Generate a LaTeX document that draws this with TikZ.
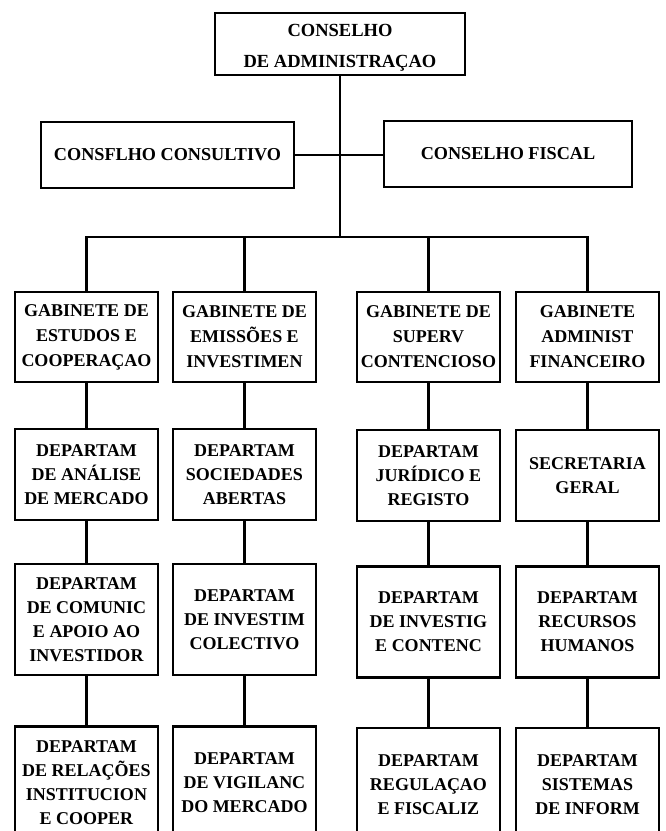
\documentclass[tikz,border=0pt]{standalone}
\usepackage{fontspec}
\setmainfont{Liberation Serif}
\begin{document}
\begin{tikzpicture}[x=1pt,y=-1pt,
  box/.style={draw, line width=2.6pt, align=center, inner sep=0pt, fill=white,
    font=\bfseries\fontsize{18}{24}\selectfont},
  topbox/.style={box, minimum width=250pt, minimum height=62pt},
  toptext/.style={align=center, inner sep=0pt, font=\bfseries\fontsize{18.5}{31}\selectfont},
  midbox/.style={box, minimum height=66pt, font=\bfseries\fontsize{18.2}{24}\selectfont},
  rowA/.style={box, minimum width=143pt, minimum height=90pt, font=\bfseries\fontsize{18}{25}\selectfont},
  rowB/.style={box, minimum width=143pt, minimum height=91pt},
  rowC/.style={box, minimum width=143pt, minimum height=111pt},
  rowD/.style={box, minimum width=143pt, minimum height=113pt},
  conn/.style={line width=2.6pt}]
\useasboundingbox (0,0) rectangle (666,831);
\clip (0,0) rectangle (666,831);
\fill[white] (0,0) rectangle (666,831);

\coordinate (bus) at (0,237);

\node[topbox] (top) at (340,44) {};
\node[toptext] (toplabel) at ([yshift=-3.5pt]top.center) {CONSELHO\\DE ADMINISTRAÇAO};
\node[midbox, minimum width=253pt] (cons) at (167.5,155) {CONSFLHO CONSULTIVO};
\node[midbox, minimum width=248pt] (fisc) at (508,154) {CONSELHO FISCAL};

\node[rowA] (g1) at (86.5,337) {GABINETE DE\\ESTUDOS E\\COOPERAÇAO};
\node[rowA] (g2) at (244.5,337) {GABINETE DE\\EMISSÕES E\\INVESTIMEN};
\node[rowA] (g3) at (428.5,337) {GABINETE DE\\SUPERV\\CONTENCIOSO};
\node[rowA] (g4) at (587.5,337) {GABINETE\\ADMINIST\\FINANCEIRO};

\node[rowB] (b1) at (86.5,474.5) {DEPARTAM\\DE ANÁLISE\\DE MERCADO};
\node[rowB] (b2) at (244.5,474.5) {DEPARTAM\\SOCIEDADES\\ABERTAS};
\node[rowB] (b3) at (428.5,475.5) {DEPARTAM\\JURÍDICO E\\REGISTO};
\node[rowB] (b4) at (587.5,475.5) {SECRETARIA\\GERAL};

\node[rowC] (c1) at (86.5,619.5) {DEPARTAM\\DE COMUNIC\\E APOIO AO\\INVESTIDOR};
\node[rowC] (c2) at (244.5,619.5) {DEPARTAM\\DE INVESTIM\\COLECTIVO};
\node[rowC] (c3) at (428.5,622) {DEPARTAM\\DE INVESTIG\\E CONTENC};
\node[rowC] (c4) at (587.5,622) {DEPARTAM\\RECURSOS\\HUMANOS};

\node[rowD] (d1) at (86.5,783) {DEPARTAM\\DE RELAÇÕES\\INSTITUCION\\E COOPER};
\node[rowD] (d2) at (244.5,783) {DEPARTAM\\DE VIGILANC\\DO MERCADO};
\node[rowD] (d3) at (428.5,784.5) {DEPARTAM\\REGULAÇAO\\E FISCALIZ};
\node[rowD] (d4) at (587.5,784.5) {DEPARTAM\\SISTEMAS\\DE INFORM};

\draw[conn] (top.south) -- (top.south |- bus);
\draw[conn] (cons.east) -- (cons.east -| fisc.west);
\draw[conn] (g1.north) -- (g1.north |- bus) -- (g4.north |- bus) -- (g4.north);
\draw[conn] (g2.north) -- (g2.north |- bus);
\draw[conn] (g3.north) -- (g3.north |- bus);

\foreach \c in {1,2,3,4}{
  \draw[conn] (g\c.south) -- (b\c.north);
  \draw[conn] (b\c.south) -- (c\c.north);
  \draw[conn] (c\c.south) -- (d\c.north);
}
\end{tikzpicture}
\end{document}
